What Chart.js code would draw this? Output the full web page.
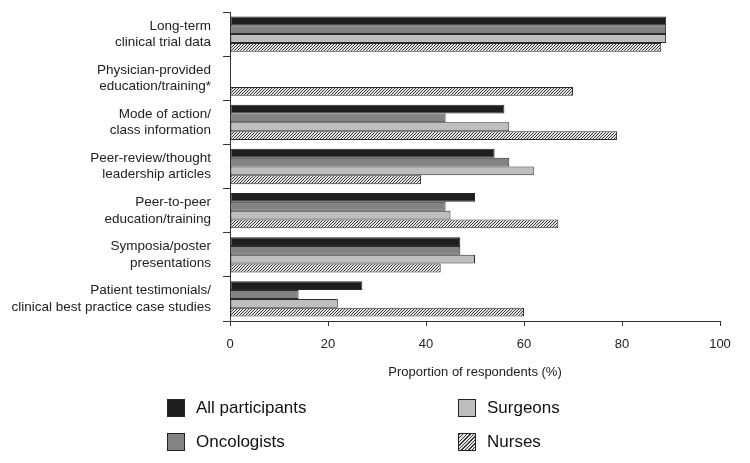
<!DOCTYPE html>
<html>
<head>
<meta charset="utf-8">
<script src="https://cdn.jsdelivr.net/npm/chart.js@4"></script>
<style>
  html, body { margin: 0; padding: 0; background: #fff; }
  #wrap { position: relative; width: 750px; height: 463px; }
  #legend { position: absolute; left: 0; top: 0; width: 750px; height: 463px; pointer-events: none;
            font-family: "Liberation Sans", Arial, sans-serif; font-size: 17px; color: #111; }
  .item { position: absolute; display: flex; align-items: center; }
  .box { width: 18px; height: 18px; border: 1px solid #222; margin-right: 11px; box-sizing: border-box; }
</style>
</head>
<body>
<div id="wrap">
  <canvas id="chart" width="750" height="463"></canvas>
  <div id="legend"></div>
</div>
<script>
// data
const categories = [
    ['Long-term', 'clinical trial data'],
    ['Physician-provided', 'education/training*'],
    ['Mode of action/', 'class information'],
    ['Peer-review/thought', 'leadership articles'],
    ['Peer-to-peer', 'education/training'],
    ['Symposia/poster', 'presentations'],
    ['Patient testimonials/', 'clinical best practice case studies']
];
const allParticipants = [89, null, 56, 54, 50, 47, 27];
const oncologists     = [89, null, 44, 57, 44, 47, 14];
const surgeons        = [89, null, 57, 62, 45, 50, 22];
const nurses          = [88, 70, 79, 39, 67, 43, 60];
const xTicks = [0, 20, 40, 60, 80, 100];

const FONT = '"Liberation Sans", Arial, sans-serif';

// 3px diagonal hatch, drawn pixel by pixel so it stays crisp
function makeHatch() {
    const c = document.createElement('canvas');
    c.width = 3; c.height = 3;
    const g = c.getContext('2d');
    g.fillStyle = '#e4e4e4';
    g.fillRect(0, 0, 3, 3);
    g.fillStyle = '#3a3a3a';
    g.fillRect(0, 2, 1, 1);
    g.fillRect(1, 1, 1, 1);
    g.fillRect(2, 0, 1, 1);
    return c;
}

const ctx = document.getElementById('chart').getContext('2d');
const hatch = ctx.createPattern(makeHatch(), 'repeat');

const series = [
    { label: 'All participants', data: allParticipants, fill: '#1e1e1e', css: '#1e1e1e' },
    { label: 'Oncologists', data: oncologists, fill: '#838383', css: '#838383' },
    { label: 'Surgeons', data: surgeons, fill: '#bebebe', css: '#bebebe' },
    { label: 'Nurses', data: nurses, fill: hatch,
      css: 'repeating-linear-gradient(135deg, #3a3a3a 0 1px, #e4e4e4 1px 2.5px)' }
];

const chart = new Chart(ctx, {
    type: 'bar',
    data: {
        labels: categories,
        datasets: series.map(s => ({
            label: s.label,
            data: s.data,
            backgroundColor: s.fill,
            borderColor: '#2a2a2a',
            borderWidth: 1,
            borderSkipped: false,
            barPercentage: 1.0,
            categoryPercentage: 0.8
        }))
    },
    options: {
        indexAxis: 'y',
        responsive: false,
        animation: false,
        layout: { padding: { left: 0, right: 30, top: 12, bottom: 79 } },
        plugins: {
            legend: { display: false },
            tooltip: { enabled: false }
        },
        scales: {
            x: {
                min: 0,
                max: 100,
                afterBuildTicks: (scale) => { scale.ticks = xTicks.map(v => ({ value: v })); },
                afterFit: (scale) => { scale.height = 63; },
                grid: { drawOnChartArea: false, drawTicks: true, tickLength: 5, color: '#333' },
                border: { color: '#333', width: 1 },
                ticks: { color: '#222', font: { family: FONT, size: 13 }, padding: 11 },
                title: {
                    display: true,
                    text: 'Proportion of respondents (%)',
                    color: '#222',
                    font: { family: FONT, size: 13 },
                    padding: { top: 12, bottom: 4 }
                }
            },
            y: {
                afterFit: (scale) => {
                    scale.width = 230;
                    scale.paddingTop = 0;
                    scale.paddingBottom = 0;
                },
                grid: { drawOnChartArea: false, drawTicks: true, tickLength: 7, color: '#333', offset: true },
                border: { color: '#333', width: 1 },
                ticks: {
                    color: '#222',
                    font: { family: FONT, size: 13.5, lineHeight: 1.22 },
                    padding: 12
                }
            }
        }
    }
});

// legend laid out as in the reference (2 x 2)
const legendPos = [
    { left: 167, top: 398 },
    { left: 167, top: 432 },
    { left: 458, top: 398 },
    { left: 458, top: 432 }
];
const legend = document.getElementById('legend');
series.forEach((s, i) => {
    const el = document.createElement('div');
    el.className = 'item';
    el.style.left = legendPos[i].left + 'px';
    el.style.top = legendPos[i].top + 'px';
    const box = document.createElement('span');
    box.className = 'box';
    box.style.background = s.css;
    const txt = document.createElement('span');
    txt.textContent = s.label;
    el.appendChild(box);
    el.appendChild(txt);
    legend.appendChild(el);
});
</script>
</body>
</html>
